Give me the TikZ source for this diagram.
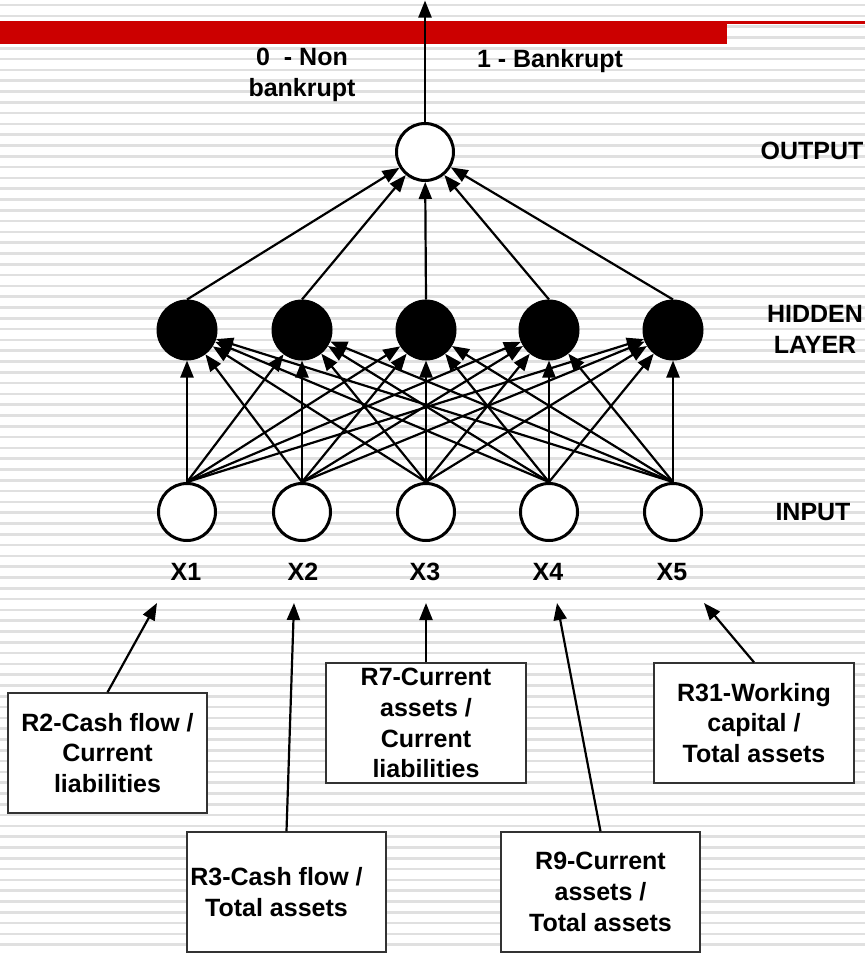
\documentclass[tikz,border=0pt]{standalone}
\usepackage{fontspec}
\setmainfont{Liberation Sans}
\usetikzlibrary{arrows.meta}
\definecolor{barred}{HTML}{CC0000}
\definecolor{stripe}{HTML}{E0E0E0}
\begin{document}
\begin{tikzpicture}[x=1pt,y=-1pt,
  lbl/.style={font=\fontsize{25}{30.8}\selectfont\bfseries, inner sep=0pt, align=center},
  incirc/.style={circle, draw=black, line width=3pt, fill=white, minimum size=57pt, inner sep=0pt},
  hidcirc/.style={circle, draw=black, fill=black, line width=1pt, minimum size=60pt, inner sep=0pt},
  ratiobox/.style={draw=black!80, line width=1.4pt, fill=white, minimum width=199pt, minimum height=120pt, inner sep=0pt, font=\fontsize{25}{30.8}\selectfont\bfseries, align=center},
  arr/.style={line width=2.2pt, -{Triangle[length=17pt,width=13pt]}},
]
\useasboundingbox (0,0) rectangle (865,953);
\fill[white] (0,0) rectangle (865,953);
\foreach \i in {0,...,88} \draw[stripe, line width=2.6pt] (0,{5+10.8*\i}) -- (865,{5+10.8*\i});
\fill[barred] (0,21) rectangle (727,44);
\fill[barred] (727,21) rectangle (865,23.5);

% network nodes
\node[incirc] (out) at (425,152) {};
\node[hidcirc] (h1) at (187,330) {};
\node[hidcirc] (h2) at (302,330) {};
\node[hidcirc] (h3) at (426,330) {};
\node[hidcirc] (h4) at (549,330) {};
\node[hidcirc] (h5) at (673,330) {};
\node[incirc] (i1) at (187,512) {};
\node[incirc] (i2) at (302,512) {};
\node[incirc] (i3) at (426,512) {};
\node[incirc] (i4) at (549,512) {};
\node[incirc] (i5) at (673,512) {};

% connectors
\foreach \a in {1,...,5} {\foreach \b in {1,...,5} {\draw[arr] (i\a.north) -- (h\b);}}
\foreach \b in {1,...,5} {\draw[arr] (h\b.north) -- (out);}
\coordinate (top) at (425,0.5);
\draw[arr] (out.north) -- (top);

% labels
\node[lbl] (cls0) at (302,75) {0\ \ - Non\\bankrupt};
\node[lbl, anchor=base] (cls1) at (550,67) {1 - Bankrupt};
\node[lbl, anchor=base] (lout) at (812,159.5) {OUTPUT};
\node[lbl] (lhid) at (815,329) {HIDDEN\\LAYER};
\node[lbl, anchor=base] (lin) at (813,520) {INPUT};
\node[lbl, anchor=base] (x1) at (186,580.5) {X1};
\node[lbl, anchor=base] (x2) at (303,580.5) {X2};
\node[lbl, anchor=base] (x3) at (425,580.5) {X3};
\node[lbl, anchor=base] (x4) at (548,580.5) {X4};
\node[lbl, anchor=base] (x5) at (672,580.5) {X5};

% ratio boxes
\node[ratiobox] (r2) at (107.5,753) {R2-Cash flow /\\Current\\liabilities};
\node[ratiobox] (r3) at (286.5,892) {R3-Cash flow /\hspace*{20pt}\\Total assets\hspace*{20pt}};
\node[ratiobox, minimum width=200pt] (r7) at (426,723) {R7-Current\\assets /\\Current\\liabilities};
\node[ratiobox] (r9) at (600.5,892) {R9-Current\\assets /\\Total assets};
\node[ratiobox, minimum width=200pt] (r31) at (754,723) {R31-Working\\capital /\\Total assets};

\coordinate (t1) at (157,603);
\coordinate (t2) at (294,603);
\coordinate (t3) at (426,603);
\coordinate (t4) at (557,603);
\coordinate (t5) at (704,603);
\draw[arr] (r2.north) -- (t1);
\draw[arr] (r3.north) -- (t2);
\draw[arr] (r7.north) -- (t3);
\draw[arr] (r9.north) -- (t4);
\draw[arr] (r31.north) -- (t5);
\end{tikzpicture}
\end{document}
